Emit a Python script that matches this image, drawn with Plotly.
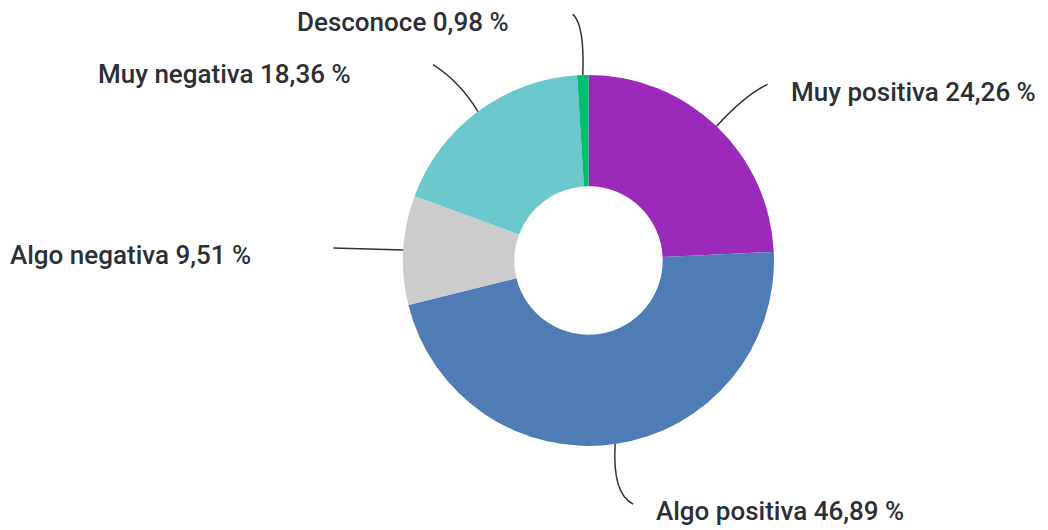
import math
import plotly.graph_objects as go

labels = ["Muy positiva", "Algo positiva", "Algo negativa", "Muy negativa", "Desconoce"]
values = [24.26, 46.89, 9.51, 18.36, 0.98]
colors = ["#9b2abb", "#4f7cb5", "#cccccc", "#6bc8cc", "#00bf6f"]

# leader line / text placement in pixels, relative to the slice's outer edge
line_end = [(51, -42), (18, 60), (-70, -2), (-45, -47), (-10, -61)]
line_ctrl = [(28, -31), (-3, 50), (-35, -1), (-18, -30), (2, -50)]
text_off = [(72, -34), (39, 67), (-150, 5), (-125, -38), (-72, -53)]
text_side = ["left", "left", "right", "right", "right"]

# page body adds an 8px offset, so margins are shifted to compensate
L, R, T, B = 395, 282, 67, 92
W, H = 1048 - L - R, 530 - T - B

fig = go.Figure(go.Pie(
    labels=labels,
    values=values,
    hole=0.4,
    sort=False,
    direction="clockwise",
    rotation=0,
    marker=dict(colors=colors, line=dict(width=0)),
    textinfo="none",
    hoverinfo="label+percent",
    showlegend=False,
))

def px(dx, dy):
    return dx / W, -dy / H

total = sum(values)
shapes, annotations = [], []
cum = 0
for i, v in enumerate(values):
    mid = (cum + v / 2) / total * 2 * math.pi
    cum += v
    ex = 0.5 + 0.5 * math.sin(mid)
    ey = 0.5 + 0.5 * math.cos(mid)
    cx, cy = px(*line_ctrl[i])
    tx, ty = px(*line_end[i])
    shapes.append(dict(
        type="path", xref="paper", yref="paper",
        path=f"M {ex},{ey} Q {ex + cx},{ey + cy} {ex + tx},{ey + ty}",
        line=dict(color="#333333", width=1.5),
    ))
    pct = f"{v:.2f}".replace(".", ",")
    annotations.append(dict(
        x=ex, y=ey, xref="paper", yref="paper",
        xshift=text_off[i][0], yshift=-text_off[i][1],
        text=f"{labels[i]} {pct} %",
        showarrow=False, xanchor=text_side[i], yanchor="middle",
        font=dict(family="Roboto", size=26, color="#2b2f36", weight=500),
    ))

fig.update_layout(
    width=1048, height=530,
    margin=dict(l=L, r=R, t=T, b=B),
    paper_bgcolor="white",
    plot_bgcolor="white",
    shapes=shapes,
    annotations=annotations,
)

fig.write_html("out.html")
